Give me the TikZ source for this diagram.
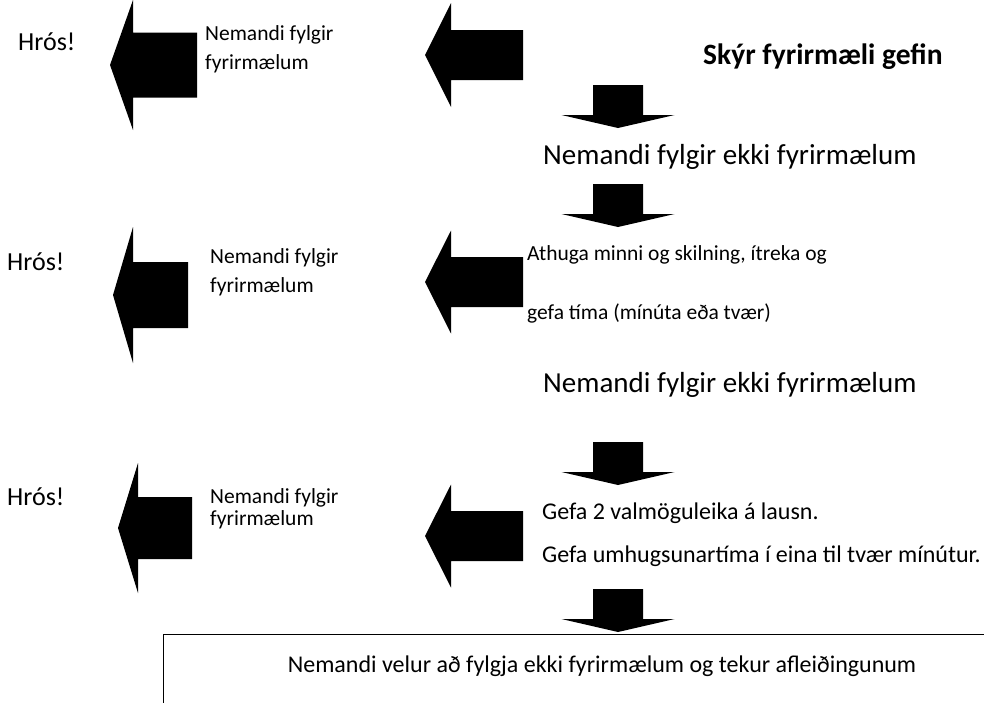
\documentclass[tikz,border=0pt]{standalone}
\usepackage{fontspec}
\setmainfont{Carlito}
\usetikzlibrary{positioning}
\tikzstyle{blk} = [fill=black]
\tikzstyle{txt} = [inner sep=0pt, anchor=base west]
\tikzstyle{hros} = [txt, font=\fontsize{26}{30}\selectfont]
\tikzstyle{smalltxt} = [txt, font=\fontsize{21.5}{26}\selectfont]
\tikzstyle{midtxt} = [txt, font=\fontsize{24}{28}\selectfont]
\tikzstyle{bigtxt} = [txt, font=\fontsize{29}{34}\selectfont]
\tikzstyle{boldtxt} = [txt, font=\fontsize{29.5}{34}\selectfont\bfseries]
% tip x, tip y, head length, head half width, body half width, total length
\newcommand{\leftblock}[6]{\fill[blk] (#1,#2) -- ({#1+#3},{#2-#4}) -- ({#1+#3},{#2-#5}) -- ({#1+#6},{#2-#5}) -- ({#1+#6},{#2+#5}) -- ({#1+#3},{#2+#5}) -- ({#1+#3},{#2+#4}) -- cycle;}
% centre x, top y
\newcommand{\downblock}[2]{\fill[blk] ({#1-25},#2) -- ({#1+25},#2) -- ({#1+25},{#2+30}) -- ({#1+56.5},{#2+30}) -- (#1,{#2+43}) -- ({#1-56.5},{#2+30}) -- ({#1-25},{#2+30}) -- cycle;}

\begin{document}
\begin{tikzpicture}[x=1pt, y=-1pt]
          \useasboundingbox (0,0) rectangle (984,702);

          \node[boldtxt] (skyr) at (703,64) {Skýr fyrirmæli gefin};
          \node[bigtxt] (ekki1) at (543,164) {Nemandi fylgir ekki fyrirmælum};
          \node[bigtxt] (ekki2) at (543,392) {Nemandi fylgir ekki fyrirmælum};

          \node[smalltxt] (athuga1) at (527,260) {Athuga minni og skilning, ítreka og};
          \node[smalltxt] (athuga2) at (527,319) {gefa tíma (mínúta eða tvær)};
          \node[midtxt] (gefa1) at (542,519) {Gefa 2 valmöguleika á lausn.};
          \node[midtxt] (gefa2) at (542,562) {Gefa umhugsunartíma í eina til tvær mínútur.};

          \node[smalltxt] (fylgir1a) at (205,40) {Nemandi fylgir};
          \node[smalltxt] (fylgir1b) at (205,69) {fyrirmælum};
          \node[smalltxt] (fylgir2a) at (210,263) {Nemandi fylgir};
          \node[smalltxt] (fylgir2b) at (210,292) {fyrirmælum};
          \node[smalltxt] (fylgir3a) at (210,503) {Nemandi fylgir};
          \node[smalltxt] (fylgir3b) at (210,525) {fyrirmælum};

          \node[hros] (hros1) at (18,50) {Hrós!};
          \node[hros] (hros2) at (7,270) {Hrós!};
          \node[hros] (hros3) at (7,505) {Hrós!};

          % block arrows
          \leftblock{425}{55}{26}{52}{25}{98}
          \leftblock{425}{282}{26}{51.5}{25}{98}
          \leftblock{425}{536}{26}{51.5}{25}{98}
          \leftblock{110}{65}{23}{65}{32.5}{87}
          \leftblock{113}{295}{20}{68}{33}{75}
          \leftblock{118}{528}{20}{65}{31}{74}
          \downblock{618}{85}
          \downblock{618}{184}
          \downblock{618}{442}
          \downblock{618}{589}

          \node[draw, line width=0.8pt, anchor=north west, minimum width=878pt, minimum height=120pt] (endbox) at (163,634) {};
          \node[midtxt, anchor=base] (endtxt) at (602,672) {Nemandi velur að fylgja ekki fyrirmælum og tekur afleiðingunum};
        \end{tikzpicture}
\end{document}
